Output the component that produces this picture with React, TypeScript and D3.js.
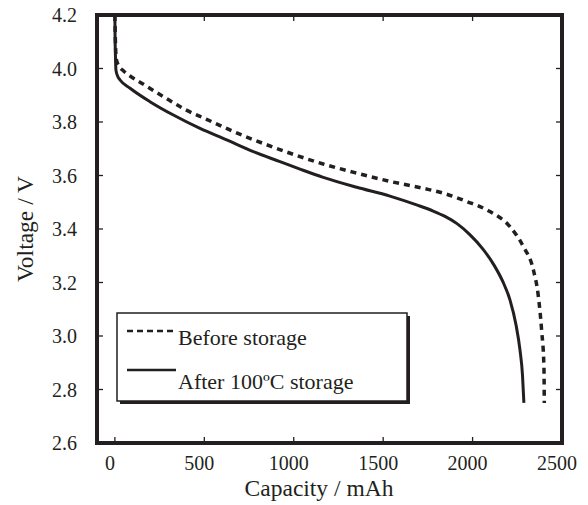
import React from 'react';
import * as d3 from 'd3';

// capacity (mAh) / voltage (V)
const beforeCap = [0, 3, 8, 19, 50, 85, 150, 271, 392, 513, 634, 755, 877, 998, 1165, 1352, 1538, 1725, 1846, 1967, 2097, 2209, 2284, 2340, 2368, 2386, 2399, 2401];
const beforeV = [4.2, 4.1, 4.035, 4.013, 3.99, 3.972, 3.945, 3.895, 3.847, 3.81, 3.773, 3.739, 3.708, 3.679, 3.643, 3.609, 3.578, 3.552, 3.532, 3.503, 3.465, 3.409, 3.334, 3.247, 3.147, 3.022, 2.885, 2.75];

const afterCap = [0, 1, 3, 6, 15, 29, 85, 196, 327, 476, 625, 774, 923, 1035, 1165, 1352, 1538, 1687, 1780, 1846, 1913, 1986, 2058, 2120, 2170, 2209, 2243, 2265, 2279, 2287];
const afterV = [4.2, 4.12, 4.05, 3.994, 3.972, 3.957, 3.926, 3.876, 3.826, 3.776, 3.733, 3.689, 3.652, 3.624, 3.593, 3.556, 3.523, 3.49, 3.467, 3.447, 3.42, 3.378, 3.325, 3.265, 3.202, 3.135, 3.041, 2.948, 2.855, 2.75];

const xTicks = [0, 500, 1000, 1500, 2000, 2500];
const yTicks = [2.6, 2.8, 3.0, 3.2, 3.4, 3.6, 3.8, 4.0, 4.2];
const legendLabels = ['Before storage', 'After 100ºC storage'];

const ink = '#231f20';
const serif = '"Liberation Serif", "DejaVu Serif", serif';
const tickStyle = { fontFamily: serif, fontSize: '20px' };
const titleStyle = { fontFamily: serif, fontSize: '23.5px' };
const legendStyle = { fontFamily: serif, fontSize: '22px' };

const App = () => {
    const width = 588;
    const height = 505;
    // plot frame in page coords (svg sits at 0,0 of the page)
    const left = 97, right = 562, top = 15, bottom = 443;

    const x = d3.scaleLinear().domain([-100, 2500]).range([left, right]);
    const y = d3.scaleLinear().domain([2.6, 4.2]).range([bottom, top]);

    const line = d3.line<[number, number]>()
        .x(d => x(d[0]))
        .y(d => y(d[1]))
        .curve(d3.curveMonotoneX);

    const before = line(beforeCap.map((c, i) => [c, beforeV[i]] as [number, number]));
    const after = line(afterCap.map((c, i) => [c, afterV[i]] as [number, number]));

    const tickLen = 6;

    return (
        <svg width={width} height={height}
            style={{ position: 'absolute', left: 0, top: 0, background: '#fff' }}
            fill={ink}>
            {/* curves */}
            <path d={after ?? ''} fill="none" stroke={ink} strokeWidth={3} />
            <path d={before ?? ''} fill="none" stroke={ink} strokeWidth={3.5} strokeDasharray="6,5" />

            {/* ticks, inward on every side */}
            {xTicks.map(t => (
                <g key={'x' + t}>
                    <line x1={x(t)} x2={x(t)} y1={bottom} y2={bottom - tickLen} stroke={ink} strokeWidth={1.3} />
                    <line x1={x(t)} x2={x(t)} y1={top} y2={top + tickLen} stroke={ink} strokeWidth={1.3} />
                    <text x={x(t) - 5} y={470} textAnchor="middle" style={tickStyle}>{t}</text>
                </g>
            ))}
            {yTicks.map(t => (
                <g key={'y' + t}>
                    <line x1={left} x2={left + tickLen} y1={y(t)} y2={y(t)} stroke={ink} strokeWidth={1.3} />
                    <line x1={right} x2={right - tickLen} y1={y(t)} y2={y(t)} stroke={ink} strokeWidth={1.3} />
                    <text x={77} y={y(t)} dy="0.35em" textAnchor="end" style={tickStyle}>{t.toFixed(1)}</text>
                </g>
            ))}

            {/* frame */}
            <rect x={left} y={top} width={right - left} height={bottom - top}
                fill="none" stroke={ink} strokeWidth={4} />

            {/* axis titles */}
            <text x={319} y={496} textAnchor="middle" style={titleStyle}>Capacity / mAh</text>
            <text transform={`translate(33,${(top + bottom) / 2}) rotate(-90)`} textAnchor="middle" style={titleStyle}>Voltage / V</text>

            {/* legend with drop shadow */}
            <rect x={120} y={316} width={290} height={88} fill={ink} />
            <rect x={117} y={313} width={290} height={88} fill="#fff" stroke={ink} strokeWidth={1.5} />
            <line x1={127} x2={176} y1={331} y2={331} stroke={ink} strokeWidth={2.5} strokeDasharray="6,4" />
            <text x={178} y={345} style={legendStyle}>{legendLabels[0]}</text>
            <line x1={127} x2={176} y1={370} y2={370} stroke={ink} strokeWidth={2.5} />
            <text x={178} y={389} style={legendStyle}>{legendLabels[1]}</text>
        </svg>
    );
};

export default App;
